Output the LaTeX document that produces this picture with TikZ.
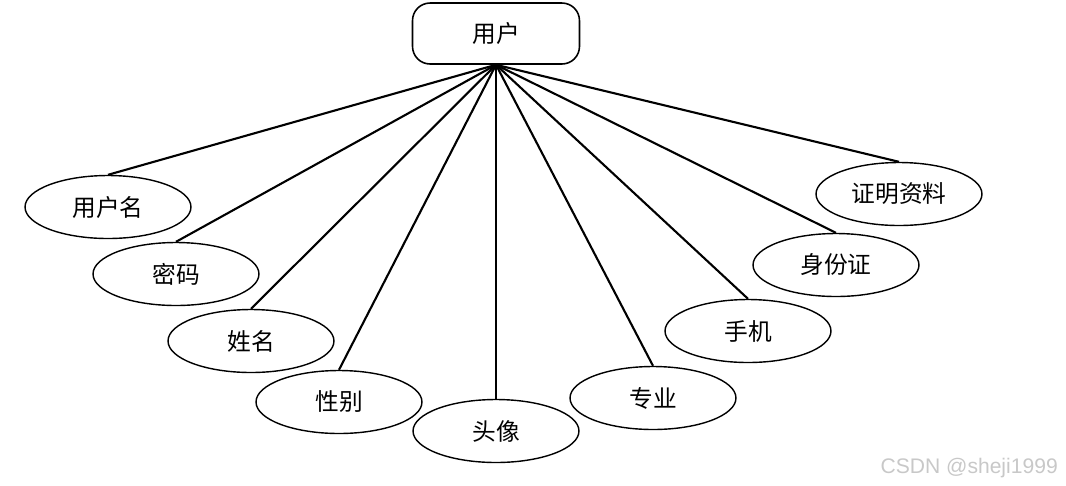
\documentclass[tikz,border=0pt]{standalone}
\usepackage{fontspec}
\newfontfamily\cjk{Noto Sans CJK SC}
\newfontfamily\wmfont{Liberation Sans}
\usetikzlibrary{shapes.geometric}
\definecolor{ERline}{RGB}{0,0,0}
\definecolor{ERmark}{RGB}{200,200,200}
\tikzset{
  entity/.style={rectangle,rounded corners=10pt,draw=ERline,line width=0.9pt,fill=white,
                 minimum width=3.34cm,minimum height=1.22cm,inner sep=0pt,
                 font=\cjk\fontsize{13.5}{16}\selectfont},
  attr/.style={ellipse,draw=ERline,line width=0.8pt,fill=white,
               minimum width=3.32cm,minimum height=1.26cm,inner sep=0pt,
               font=\cjk\fontsize{13.5}{16}\selectfont},
  ln/.style={draw=ERline,line width=1.2pt},
  wmark/.style={font=\wmfont\fontsize{12}{14}\selectfont,text=ERmark}
}
\begin{document}
\begin{tikzpicture}[x=0.02cm,y=-0.02cm]
  \useasboundingbox (0,0) rectangle (1066,485);
  \node[entity] (user) at (496,33.5) {用户};

  \node[attr] (uname) at (108,207) {用户名};
  \node[attr] (pwd) at (176,274) {密码};
  \node[attr] (rname) at (251,341) {姓名};
  \node[attr] (sex) at (339,402) {性别};
  \node[attr] (avatar) at (496,431) {头像};
  \node[attr] (major) at (653,398) {专业};
  \node[attr] (phone) at (748,331) {手机};
  \node[attr] (idcard) at (836,265) {身份证};
  \node[attr] (proof) at (899,194) {证明资料};

  \draw[ln] (user.south) -- (uname.north);
  \draw[ln] (user.south) -- (pwd.north);
  \draw[ln] (user.south) -- (rname.north);
  \draw[ln] (user.south) -- (sex.north);
  \draw[ln] (user.south) -- (avatar.north);
  \draw[ln] (user.south) -- (major.north);
  \draw[ln] (user.south) -- (phone.north);
  \draw[ln] (user.south) -- (idcard.north);
  \draw[ln] (user.south) -- (proof.north);

  \node[wmark,anchor=east] (wm) at (1064,468) {CSDN @sheji1999};
\end{tikzpicture}
\end{document}
